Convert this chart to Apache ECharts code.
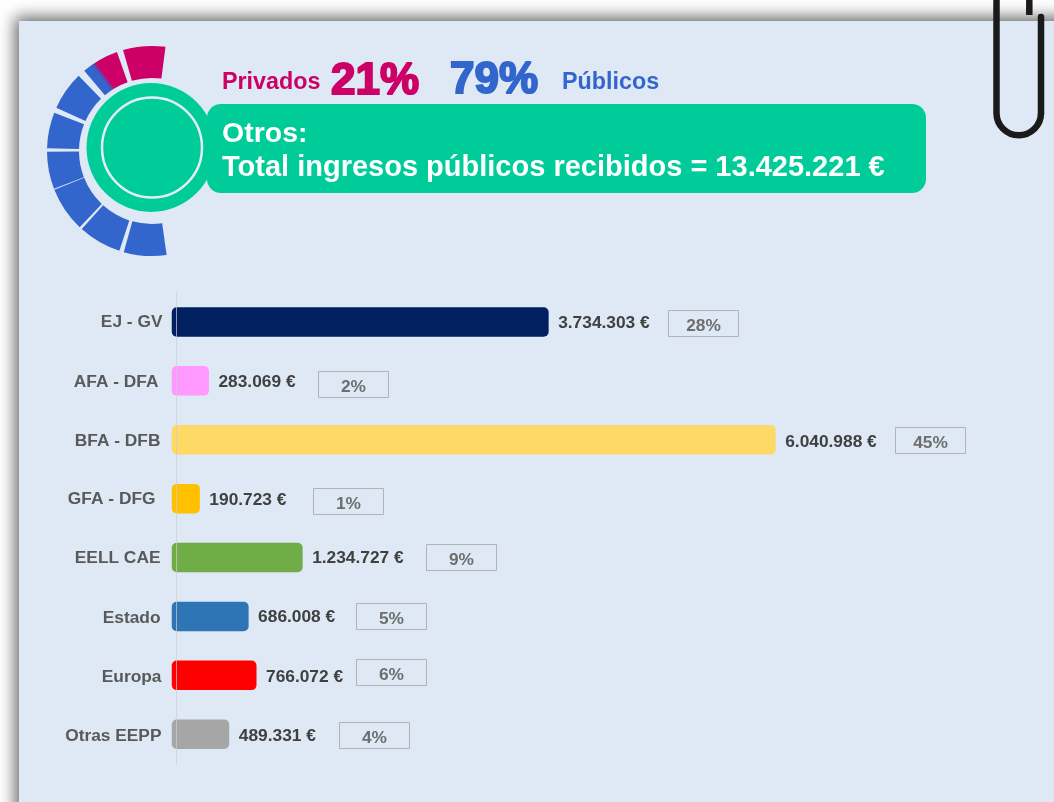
<!DOCTYPE html>
<html><head><meta charset="utf-8">
<style>html,body{margin:0;padding:0;background:#fff}#c{width:1054px;height:802px}</style>
<script src="https://cdn.jsdelivr.net/npm/echarts@6/dist/echarts.min.js"></script>
</head><body><div id="c"></div>
<script>
const categories = ['EJ - GV','AFA - DFA','BFA - DFB','GFA - DFG','EELL CAE','Estado','Europa','Otras EEPP'];
const amounts = [3734303,283069,6040988,190723,1234727,686008,766072,489331];
const shares = ['28%','2%','45%','1%','9%','5%','6%','4%'];
const barColors = ['#002060','#FF99FF','#FFD966','#FFC000','#70AD47','#2E75B6','#FF0000','#A6A6A6'];
const ringSpans = [23.6,2.5,23.9,1.5,24.9,0.6,20.6,1.9,19.9,2.9,21.4,4.1,20.7,3.5,23.4,164.6];
// hand layout of the labels, as placed in the source slide
const labelNudgeX = [0,4,2,7,2,2,1,1];
const labelNudgeY = [0,1,1,1,1,2,2,2];
const amountNudgeY = [0,0,1.5,0.5,0,0,1,1];
const boxGapX = [118.5,108.5,118.5,112.5,122.5,106.5,98.5,109.5];
const boxNudgeY = [1,3,0,2,-1,0,-3,1];

const BLUE='#3366CC', CRIMSON='#CC0066', GREEN='#00CC99', PANEL='#DEE9F5';
const font='"Liberation Sans",Arial,sans-serif';
const fs=17.33;
const fmt=v=>String(v).replace(/\B(?=(\d{3})+$)/g,'.')+' €';
const rich={};
categories.forEach((c,i)=>{rich['n'+i]={fontFamily:font,fontWeight:'bold',fontSize:fs,color:'#595959',padding:[labelNudgeY[i]*2,labelNudgeX[i],0,0]};});

const ringColors=[BLUE,null,BLUE,null,BLUE,null,BLUE,null,BLUE,null,BLUE,null,
  {type:'linear',global:true,x:102,y:78.5,x2:106,y2:75.5,colorStops:[{offset:0,color:BLUE},{offset:1,color:CRIMSON}]},null,CRIMSON,null];

const chart=echarts.init(document.getElementById('c'),null,{renderer:'canvas'});
function txt(x,y,t,size,color,extra){return {type:'text',x:x,y:y,z:20,silent:true,style:Object.assign({text:t,fontFamily:font,fontWeight:'bold',fontSize:size,fill:color},extra||{})};}
const clip={stroke:'#1a1a1a',lineWidth:6.5,fill:'none'};
chart.setOption({
  animation:false,
  backgroundColor:'#fff',
  grid:{left:171.76,right:85,top:292.5,height:471.2,containLabel:false},
  xAxis:{type:'value',min:-100000,max:8000000,show:false},
  yAxis:{type:'category',inverse:true,data:categories,offset:-4.7,z:5,
    axisTick:{show:false},splitLine:{show:false},
    axisLine:{show:true,onZero:false,lineStyle:{color:'rgba(205,205,205,0.7)',width:1}},
    axisLabel:{margin:14,align:'right',formatter:(v,i)=>`{n${i}|${v}}`,rich}},
  graphic:[
    {type:'rect',z:-10,silent:true,shape:{x:19,y:21,width:1200,height:1000},
      style:{fill:PANEL,shadowColor:'rgba(0,0,0,0.6)',shadowBlur:15,shadowOffsetX:-4,shadowOffsetY:-4}},
    {type:'circle',z:5,silent:true,shape:{cx:151,cy:147.5,r:64.5},style:{fill:GREEN}},
    {type:'circle',z:6,silent:true,shape:{cx:152,cy:147.5,r:50},style:{fill:GREEN,stroke:'#E4EDF6',lineWidth:2.5}},
    {type:'rect',z:7,silent:true,shape:{x:207,y:104,width:719,height:89,r:14},style:{fill:GREEN}},
    txt(222,71.5,'Privados',23.3,CRIMSON),
    txt(562,71.5,'Públicos',23.3,BLUE),
    txt(331,60,'21%',44,CRIMSON,{stroke:CRIMSON,lineWidth:2}),
    txt(450,59,'79%',44,BLUE,{stroke:BLUE,lineWidth:2}),
    txt(222,120,'Otros:',28.5,'#fff'),
    txt(222,153,'Total ingresos públicos recibidos = 13.425.221 €',29,'#fff'),
    {type:'line',z:20,silent:true,shape:{x1:996.5,y1:0,x2:996.5,y2:113},style:clip},
    {type:'line',z:20,silent:true,shape:{x1:1041,y1:17,x2:1041,y2:113},style:Object.assign({lineCap:'round'},clip)},
    {type:'arc',z:20,silent:true,shape:{cx:1018.75,cy:113,r:22.25,startAngle:0,endAngle:Math.PI,clockwise:true},style:clip},
    {type:'line',z:20,silent:true,shape:{x1:1029.3,y1:0,x2:1029.3,y2:15},style:{stroke:'#1a1a1a',lineWidth:6.5}}
  ],
  series:[
    {type:'pie',silent:true,center:[152,151],radius:[73,105],startAngle:278,clockwise:true,
      label:{show:false},labelLine:{show:false},emphasis:{disabled:true},z:2,
      data:ringSpans.map((v,i)=>({value:v,itemStyle:ringColors[i]?{color:ringColors[i]}:{color:'transparent'}}))},
    {type:'custom',silent:true,z:3,clip:false,
      data:amounts.map((v,i)=>[v,i]),
      encode:{x:0,y:1},
      renderItem(params,api){
        const i=api.value(1), v=api.value(0);
        const end=api.coord([v,i]), start=api.coord([-100000,i]);
        const h=29.5, cy=end[1];
        const boxX=Math.round(end[0]+boxGapX[i])+.5, boxY=Math.round(cy+boxNudgeY[i]);
        return {type:'group',children:[
          {type:'rect',shape:{x:start[0],y:cy-h/2,width:end[0]-start[0]-.5,height:h,r:5},style:{fill:barColors[i]}},
          {type:'text',style:{x:end[0]+9,y:cy+amountNudgeY[i]+1,text:fmt(v),fontFamily:font,fontWeight:'bold',fontSize:fs,fill:'#404040',verticalAlign:'middle'}},
          {type:'rect',shape:{x:boxX,y:boxY-12.5,width:70,height:26},style:{fill:'none',stroke:'#B3B3B3',lineWidth:1}},
          {type:'text',style:{x:boxX+35,y:boxY+3.5,text:shares[i],fontFamily:font,fontWeight:'bold',fontSize:fs,fill:'#6E6E6E',align:'center',verticalAlign:'middle'}}
        ]};
      }}
  ]
});
</script></body></html>
